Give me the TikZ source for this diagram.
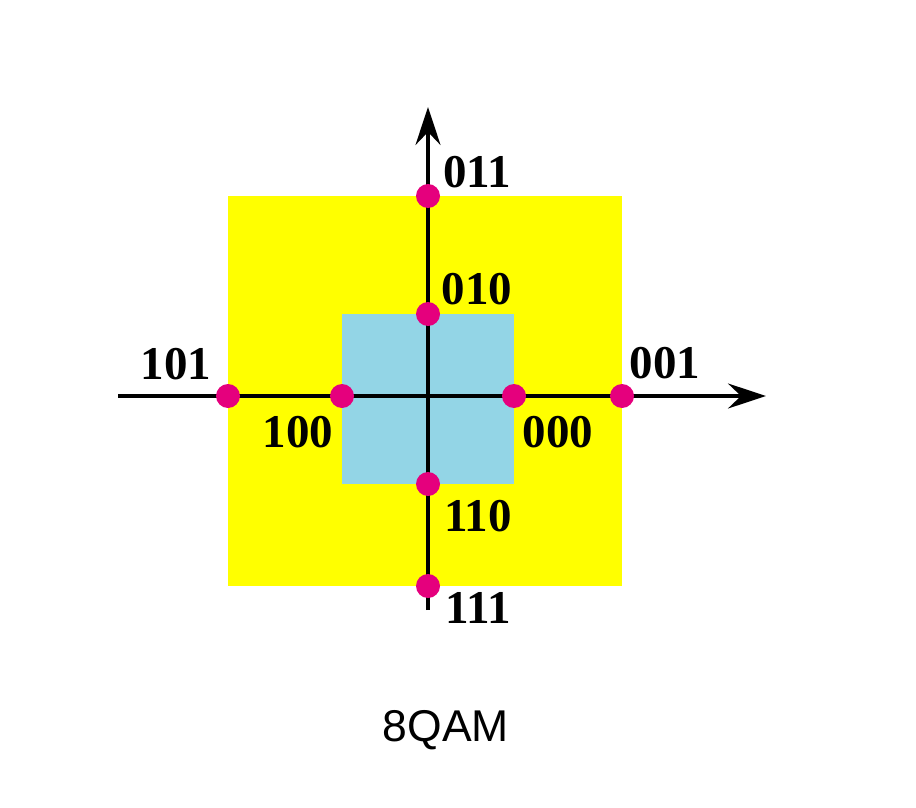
\documentclass[tikz,border=0pt]{standalone}
\usepackage{fontspec}
\setmainfont{Liberation Serif}
\newfontfamily\capfont{Liberation Sans}
\usetikzlibrary{arrows.meta}
\definecolor{qyellow}{HTML}{FFFF00}
\definecolor{qblue}{HTML}{93D5E6}
\definecolor{qdot}{HTML}{E5007D}
\tikzset{
  axis/.style={line width=3.2pt,-{Stealth[length=38pt,width=25pt,inset=13pt]}},
  pt/.style={circle,fill=qdot,minimum size=24pt,inner sep=0pt},
  lbl/.style={font=\fontsize{47}{47}\selectfont\bfseries,inner sep=0pt},
}
\begin{document}
\begin{tikzpicture}[x=1pt,y=-1pt]
\useasboundingbox (0,0) rectangle (916,808);
\fill[qyellow] (228,196) rectangle (622,586);
\fill[qblue] (342,314) rectangle (514,484);
\coordinate (xs) at (118,396);
\coordinate (xe) at (766,396);
\coordinate (ys) at (428,610);
\coordinate (ye) at (428,107);
\draw[axis] (xs) -- (xe);
\draw[axis] (ys) -- (ye);
\node[pt] (p011) at (428,196) {};
\node[pt] (p010) at (428,314) {};
\node[pt] (p101) at (228,396) {};
\node[pt] (p100) at (342,396) {};
\node[pt] (p000) at (514,396) {};
\node[pt] (p001) at (622,396) {};
\node[pt] (p110) at (428,484) {};
\node[pt] (p111) at (428,586) {};
\node[lbl] (l011) at (477,172) {011};
\node[lbl] (l010) at (477,289) {010};
\node[lbl] (l101) at (176,364) {101};
\node[lbl] (l100) at (298,432) {100};
\node[lbl] (l000) at (558,432) {000};
\node[lbl] (l001) at (665,363) {001};
\node[lbl] (l110) at (478,516) {110};
\node[lbl] (l111) at (478,608) {111};
\node[font=\capfont\fontsize{44.5}{44.5}\selectfont,inner sep=0pt] (cap) at (446,730) {8QAM};
\end{tikzpicture}
\end{document}
